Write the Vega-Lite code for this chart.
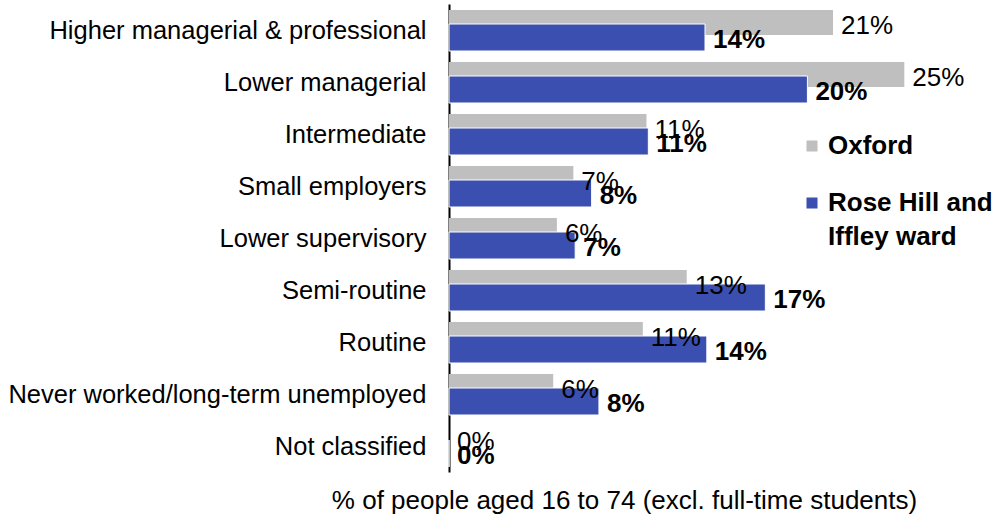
{
  "$schema": "https://vega.github.io/schema/vega-lite/v6.json",
  "autosize": "none",
  "width": 512,
  "height": 468,
  "padding": {"left": 449, "top": 4, "right": 32, "bottom": 46},
  "background": "white",
  "config": {
    "view": {"stroke": null},
    "font": "Liberation Sans"
  },
  "data": {
    "values": [
      {"cat": "Higher managerial & professional", "series": "Oxford", "value": 0.21},
      {"cat": "Higher managerial & professional", "series": "Rose Hill and Iffley ward", "value": 0.14},
      {"cat": "Lower managerial", "series": "Oxford", "value": 0.249},
      {"cat": "Lower managerial", "series": "Rose Hill and Iffley ward", "value": 0.196},
      {"cat": "Intermediate", "series": "Oxford", "value": 0.108},
      {"cat": "Intermediate", "series": "Rose Hill and Iffley ward", "value": 0.109},
      {"cat": "Small employers", "series": "Oxford", "value": 0.068},
      {"cat": "Small employers", "series": "Rose Hill and Iffley ward", "value": 0.078},
      {"cat": "Lower supervisory", "series": "Oxford", "value": 0.059},
      {"cat": "Lower supervisory", "series": "Rose Hill and Iffley ward", "value": 0.069},
      {"cat": "Semi-routine", "series": "Oxford", "value": 0.130},
      {"cat": "Semi-routine", "series": "Rose Hill and Iffley ward", "value": 0.173},
      {"cat": "Routine", "series": "Oxford", "value": 0.106},
      {"cat": "Routine", "series": "Rose Hill and Iffley ward", "value": 0.141},
      {"cat": "Never worked/long-term unemployed", "series": "Oxford", "value": 0.057},
      {"cat": "Never worked/long-term unemployed", "series": "Rose Hill and Iffley ward", "value": 0.082},
      {"cat": "Not classified", "series": "Oxford", "value": 0},
      {"cat": "Not classified", "series": "Rose Hill and Iffley ward", "value": 0}
    ]
  },
  "encoding": {
    "y": {
      "field": "cat",
      "type": "nominal",
      "sort": null,
      "scale": {"paddingInner": 0, "paddingOuter": 0},
      "axis": {
        "title": null,
        "ticks": false,
        "labelPadding": 23,
        "labelFontSize": 25.5,
        "labelColor": "#000000",
        "labelLimit": 500,
        "labelOffset": 1,
        "domainColor": "#000000",
        "domainWidth": 2
      }
    },
    "x": {
      "field": "value",
      "type": "quantitative",
      "scale": {"domain": [0, 0.28], "nice": false},
      "axis": {
        "title": "% of people aged 16 to 74 (excl. full-time students)",
        "titleFontSize": 26,
        "titleFontWeight": "normal",
        "titleColor": "#000000",
        "titleX": 175,
        "titleY": 36,
        "titleAnchor": "middle",
        "titleBaseline": "alphabetic",
        "labels": false,
        "ticks": false,
        "domain": false,
        "grid": false
      }
    }
  },
  "layer": [
    {
      "transform": [{"filter": "datum.series == 'Oxford'"}],
      "mark": {"type": "bar", "height": 25, "yOffset": -7.5},
      "encoding": {
        "color": {
          "field": "series",
          "type": "nominal",
          "scale": {"domain": ["Oxford", "Rose Hill and Iffley ward"], "range": ["#BFBFBF", "#3A4FAF"]},
          "legend": {
            "title": null,
            "orient": "none",
            "legendX": 350,
            "legendY": 129,
            "padding": 0,
            "symbolType": "square",
            "symbolSize": 121,
            "symbolStrokeWidth": 0,
            "labelFontSize": 26,
            "labelFontWeight": "bold",
            "labelColor": "#000000",
            "labelOffset": 3,
            "labelLimit": 300,
            "rowPadding": 31,
            "labelExpr": "datum.label == 'Rose Hill and Iffley ward' ? ['Rose Hill and', 'Iffley ward'] : datum.label",
            "encode": {"labels": {"update": {"lineHeight": {"value": 34}}}}
          }
        }
      }
    },
    {
      "transform": [{"filter": "datum.series != 'Oxford'"}],
      "mark": {"type": "bar", "height": 27, "yOffset": 7.5, "stroke": "#ffffff", "strokeWidth": 1},
      "encoding": {
        "color": {"field": "series", "type": "nominal"}
      }
    },
    {
      "transform": [{"filter": "datum.series == 'Oxford'"}],
      "mark": {"type": "text", "align": "left", "baseline": "middle", "dx": 8, "yOffset": -4, "fontSize": 26, "color": "#000000"},
      "encoding": {
        "text": {"field": "value", "type": "quantitative", "format": ".0%"}
      }
    },
    {
      "transform": [{"filter": "datum.series != 'Oxford'"}],
      "mark": {"type": "text", "align": "left", "baseline": "middle", "dx": 8, "yOffset": 10, "fontSize": 26, "fontWeight": "bold", "color": "#000000"},
      "encoding": {
        "text": {"field": "value", "type": "quantitative", "format": ".0%"}
      }
    }
  ]
}
